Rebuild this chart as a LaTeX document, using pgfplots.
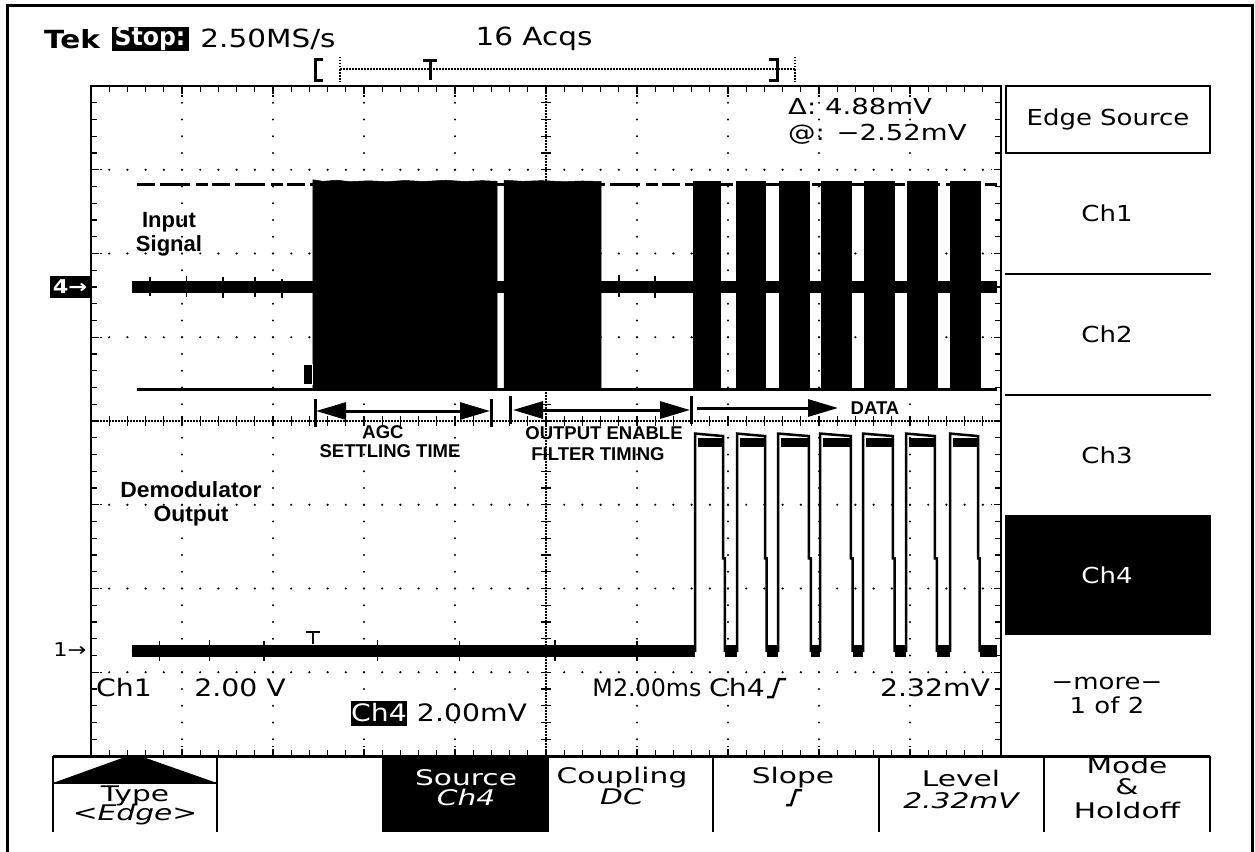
\documentclass[border=0pt]{standalone}
\usepackage{fontspec}
\setmainfont{Liberation Sans}
\newfontfamily\tek{DejaVu Sans}[FakeStretch=1.18]
\usepackage{pgfplots}
\pgfplotsset{compat=1.18}
\usetikzlibrary{arrows.meta}
\newcommand{\tf}[1]{\fontsize{#1}{#1}\selectfont\tek}
\newcommand{\af}[1]{\fontsize{#1}{#1}\selectfont\bfseries}
\newcommand{\mt}[1]{\scalebox{1.17}[1]{\tf{21.5}#1}}
\begin{document}
\begin{tikzpicture}[x=1pt,y=1pt]
\path[use as bounding box] (0,0) rectangle (1255,-851);
% outer frame
\draw[line width=3pt] (7,-852) -- (7,-6) -- (1252,-6) -- (1252,-852);
% ---------- graticule ----------
\foreach \i in {1,2,3,4,6,7,8,9}
  \foreach \j in {1,...,39}
    \fill ({91+91*\i},{-86-16.75*\j}) circle (1.2pt);
\foreach \k in {1,2,3,5,6,7}
  \foreach \m in {1,...,49}
    \fill ({91+18.2*\m},{-86-83.75*\k}) circle (1.2pt);
\draw[line width=1.2pt, dash pattern=on 1.5pt off 1.5pt] (546,-86) -- (546,-756);
\draw[line width=1.2pt, dash pattern=on 1.5pt off 1.5pt] (91,-421) -- (1001,-421);
\foreach \j in {1,...,39} \draw[line width=1.2pt] (541,{-86-16.75*\j}) -- (551,{-86-16.75*\j});
\foreach \m in {1,...,49} \draw[line width=1.2pt] ({91+18.2*\m},-416) -- ({91+18.2*\m},-426);
\foreach \m in {1,...,49} {
  \draw[line width=1.2pt] ({91+18.2*\m},-86) -- ({91+18.2*\m},-92);
  \draw[line width=1.2pt] ({91+18.2*\m},-756) -- ({91+18.2*\m},-750);}
\foreach \j in {1,...,39} {
  \draw[line width=1.2pt] (91,{-86-16.75*\j}) -- (97,{-86-16.75*\j});
  \draw[line width=1.2pt] (1001,{-86-16.75*\j}) -- (995,{-86-16.75*\j});}
\foreach \i in {1,...,9} {
  \draw[line width=1.2pt, dash pattern=on 1.5pt off 1.5pt] ({91+91*\i},-86) -- ({91+91*\i},-98);
  \draw[line width=1.2pt, dash pattern=on 1.5pt off 1.5pt] ({91+91*\i},-756) -- ({91+91*\i},-744);}
\foreach \k in {1,...,7} {
  \draw[line width=1.2pt, dash pattern=on 1.5pt off 1.5pt] (91,{-86-83.75*\k}) -- (103,{-86-83.75*\k});
  \draw[line width=1.2pt, dash pattern=on 1.5pt off 1.5pt] (1001,{-86-83.75*\k}) -- (989,{-86-83.75*\k});}
\draw[line width=2.2pt] (91,-756) -- (91,-86) -- (1001,-86) -- (1001,-756);
% ---------- top status line ----------
\node[anchor=center, inner sep=0pt] at (72,-39) {\tf{25}\bfseries Tek};
\fill (112,-27) rectangle (189,-51);
\node[anchor=center, inner sep=0pt, text=white] at (150,-39) {\scalebox{0.8}[1]{\tf{25}\bfseries Stop:}};
\node[anchor=center, inner sep=0pt] at (268,-39) {\tf{25}2.50MS/s};
\node[anchor=center, inner sep=0pt] at (534,-39) {\tf{25}16 Acqs};
% record bar
\draw[line width=3pt] (323,-60) -- (315,-60) -- (315,-80) -- (323,-80);
\draw[line width=1.2pt, dash pattern=on 1.5pt off 1.5pt] (340,-57) -- (340,-82);
\draw[line width=1.2pt, dash pattern=on 1.5pt off 1.5pt] (340,-69) -- (795,-69);
\draw[line width=3pt] (423,-61) -- (437,-61);
\draw[line width=3pt] (430,-61) -- (430,-80);
\draw[line width=3pt] (769,-60) -- (777,-60) -- (777,-80) -- (769,-80);
\draw[line width=1.2pt, dash pattern=on 1.5pt off 1.5pt] (795,-57) -- (795,-82);
% readouts
\node[anchor=west, inner sep=0pt] at (788,-106) {\scalebox{1.06}[1]{\tf{22}Δ: 4.88mV}};
\node[anchor=west, inner sep=0pt] at (788,-134) {\scalebox{1.06}[1]{\tf{22}@: −2.52mV}};
% channel markers
\fill (50,-276) rectangle (91,-298);
\node[anchor=center, inner sep=0pt, text=white] at (70,-287) {\tf{19}\bfseries 4→};
\node[anchor=center, inner sep=0pt] at (70,-650) {\tf{19}1→};
% ---------- waveforms ----------
\begin{axis}[at={(91pt,-756pt)}, anchor=south west, width=910pt, height=670pt,
  scale only axis, xmin=0, xmax=20, ymin=-4, ymax=4, hide axis, clip=false,
  unbounded coords=jump]
% Ch4 input signal (divisions), time in ms
\addplot[black, line width=3pt, dash pattern=on 18pt off 5pt on 30pt off 6pt on 12pt off 4pt] coordinates {(1.011,2.818) (19.912,2.818)};
\addplot[black, line width=2.5pt] coordinates {(1.011,0.379) (19.912,0.379)};
\addplot[black, line width=12pt] coordinates {(0.901,1.606) (19.912,1.606)};
\addplot[black, line width=1.5pt] coordinates {(1.3,1.72) (1.3,1.49) (nan,nan) (2.1,1.73) (2.1,1.48) (nan,nan) (2.9,1.47) (2.9,1.72) (nan,nan) (3.6,1.48) (3.6,1.72) (nan,nan) (4.2,1.47) (4.2,1.70) (nan,nan) (11.6,1.74) (11.6,1.48) (nan,nan) (12.4,1.47) (12.4,1.73)};
\addplot[fill=black, draw=black, line width=0.5pt] coordinates {(4.879,0.382) (4.879,2.880) (5.10,2.862) (5.40,2.875) (5.70,2.858) (6.10,2.868) (6.50,2.858) (6.90,2.872) (7.30,2.860) (7.80,2.875) (8.20,2.860) (8.60,2.870) (8.923,2.862) (8.923,0.382)} -- cycle;
\addplot[fill=black, draw=black, line width=0.5pt] coordinates {(9.077,0.382) (9.077,2.875) (9.50,2.862) (9.90,2.870) (10.40,2.858) (10.80,2.866) (11.209,2.860) (11.209,0.382)} -- cycle;
\addplot[fill=black, draw=black, line width=0.5pt] coordinates {(13.231,0.382) (13.231,2.862) (13.824,2.862) (13.824,0.382)} -- cycle;
\addplot[fill=black, draw=black, line width=0.5pt] coordinates {(14.176,0.382) (14.176,2.862) (14.813,2.862) (14.813,0.382)} -- cycle;
\addplot[fill=black, draw=black, line width=0.5pt] coordinates {(15.121,0.382) (15.121,2.862) (15.780,2.862) (15.780,0.382)} -- cycle;
\addplot[fill=black, draw=black, line width=0.5pt] coordinates {(16.044,0.382) (16.044,2.862) (16.703,2.862) (16.703,0.382)} -- cycle;
\addplot[fill=black, draw=black, line width=0.5pt] coordinates {(16.989,0.382) (16.989,2.862) (17.648,2.862) (17.648,0.382)} -- cycle;
\addplot[fill=black, draw=black, line width=0.5pt] coordinates {(17.934,0.382) (17.934,2.862) (18.593,2.862) (18.593,0.382)} -- cycle;
\addplot[fill=black, draw=black, line width=0.5pt] coordinates {(18.879,0.382) (18.879,2.862) (19.538,2.862) (19.538,0.382)} -- cycle;
% Ch1 demodulator output
\addplot[black, line width=2.5pt] coordinates {
 (0.901,-2.746) (13.275,-2.746) (13.275,-0.15) (13.890,-0.18) (13.890,-1.64) (13.93,-1.64) (13.93,-2.746)
 (14.198,-2.746) (14.198,-0.15) (14.813,-0.18) (14.813,-1.64) (14.85,-1.64) (14.85,-2.746)
 (15.099,-2.746) (15.099,-0.15) (15.780,-0.18) (15.780,-1.64) (15.82,-1.64) (15.82,-2.746)
 (16.022,-2.746) (16.022,-0.15) (16.703,-0.18) (16.703,-1.64) (16.74,-1.64) (16.74,-2.746)
 (16.967,-2.746) (16.967,-0.15) (17.626,-0.18) (17.626,-1.64) (17.66,-1.64) (17.66,-2.746)
 (17.912,-2.746) (17.912,-0.15) (18.549,-0.18) (18.549,-1.64) (18.59,-1.64) (18.59,-2.746)
 (18.879,-2.746) (18.879,-0.15) (19.495,-0.18) (19.495,-1.64) (19.53,-1.64) (19.53,-2.746)
 (19.912,-2.746)};
\addplot[black, line width=9pt] coordinates {
 (13.35,-0.26) (13.89,-0.26) (13.9,nan)
 (14.27,-0.26) (14.81,-0.26) (14.82,nan)
 (15.17,-0.26) (15.78,-0.26) (15.79,nan)
 (16.09,-0.26) (16.70,-0.26) (16.71,nan)
 (17.04,-0.26) (17.63,-0.26) (17.64,nan)
 (17.98,-0.26) (18.55,-0.26) (18.56,nan)
 (18.95,-0.26) (19.50,-0.26)};
\addplot[black, line width=12pt] coordinates {
 (0.901,-2.746) (13.275,-2.746) (13.28,nan)
 (13.93,-2.746) (14.198,-2.746) (14.2,nan)
 (14.85,-2.746) (15.099,-2.746) (15.1,nan)
 (15.82,-2.746) (16.022,-2.746) (16.03,nan)
 (16.74,-2.746) (16.967,-2.746) (16.97,nan)
 (17.66,-2.746) (17.912,-2.746) (17.92,nan)
 (18.59,-2.746) (18.879,-2.746) (18.88,nan)
 (19.53,-2.746) (19.912,-2.746)};
\addplot[black, line width=1.5pt] coordinates {(1.5,-2.63) (1.5,-2.86) (nan,nan) (2.6,-2.62) (2.6,-2.87) (nan,nan) (3.8,-2.63) (3.8,-2.86) (nan,nan) (6.3,-2.62) (6.3,-2.87) (nan,nan) (8.1,-2.63) (8.1,-2.86) (nan,nan) (10.2,-2.62) (10.2,-2.87) (nan,nan) (12.0,-2.63) (12.0,-2.86)};
% trigger markers
\draw[line width=2pt] (4.72,-2.52) -- (5.04,-2.52);
\draw[line width=2pt] (4.88,-2.52) -- (4.88,-2.66);
\filldraw[fill=black, draw=white, line width=1pt] (4.66,0.43) rectangle (4.879,0.68);
\end{axis}
% ---------- annotations ----------
\draw[line width=3pt] (315,-399) -- (315,-427);
\draw[line width=3pt] (491,-399) -- (491,-427);
\draw[line width=3pt, {Triangle[length=30pt,width=17pt]}-{Triangle[length=30pt,width=17pt]}] (316,-411) -- (490,-411);
\draw[line width=3pt] (510,-396) -- (510,-424);
\draw[line width=3pt] (691,-396) -- (691,-424);
\draw[line width=3pt, {Triangle[length=30pt,width=17pt]}-{Triangle[length=30pt,width=17pt]}] (513,-410) -- (690,-410);
\draw[line width=3pt, -{Triangle[length=30pt,width=17pt]}] (697,-408) -- (838,-408);
\node[inner sep=0pt] at (383,-432) {\af{18.5}AGC};
\node[inner sep=0pt] at (390,-451) {\af{18.5}SETTLING TIME};
\node[inner sep=0pt] at (604,-433) {\af{18.5}OUTPUT ENABLE};
\node[inner sep=0pt] at (598,-454) {\af{18.5}FILTER TIMING};
\node[inner sep=0pt] at (875,-408) {\af{18.5}DATA};
\node[inner sep=0pt] at (169,-222) {\af{22}Input};
\node[inner sep=0pt] at (169,-246) {\af{22}Signal};
\node[inner sep=0pt] at (191,-490) {\scalebox{1.04}[1]{\af{22}Demodulator}};
\node[inner sep=0pt] at (191,-516) {\scalebox{1.04}[1]{\af{22}Output}};
% ---------- bottom readouts in graticule ----------
\node[inner sep=0pt] at (124,-688) {\tf{24}Ch1};
\node[inner sep=0pt] at (240,-688) {\tf{24}2.00 V};
\fill (351,-701) rectangle (407,-726);
\node[inner sep=0pt, text=white] at (379,-713) {\tf{24}Ch4};
\node[inner sep=0pt] at (472,-713) {\tf{24}2.00mV};
\node[inner sep=0pt] at (647,-688) {\scalebox{0.84}[1]{\tf{24}M2.00ms}};
\node[inner sep=0pt] at (737,-688) {\tf{24}Ch4};
\draw[line width=2.5pt] (767,-697) -- (773,-697) -- (779,-679) -- (786,-679);
\node[inner sep=0pt] at (935,-688) {\tf{24}2.32mV};
% ---------- side menu ----------
\draw[line width=2pt] (1006,-86) rectangle (1210,-153);
\node[inner sep=0pt] at (1108,-119) {\tf{22}Edge Source};
\node[inner sep=0pt] at (1107,-213) {\tf{22}Ch1};
\draw[line width=2pt] (1005,-274) -- (1211,-274);
\node[inner sep=0pt] at (1107,-334) {\tf{22}Ch2};
\draw[line width=2pt] (1005,-395) -- (1211,-395);
\node[inner sep=0pt] at (1107,-455) {\tf{22}Ch3};
\fill (1005,-515) rectangle (1211,-635);
\node[inner sep=0pt, text=white] at (1107,-575) {\tf{22}Ch4};
\node[inner sep=0pt] at (1107,-683) {\tf{22}−more−};
\node[inner sep=0pt] at (1107,-705) {\tf{22}1 of 2};
% ---------- bottom menu ----------
\fill (383,-756) rectangle (548,-832);
\draw[line width=3pt] (53,-756) -- (1210,-756);
\foreach \xx in {53,217,383,548,713,879,1044,1210} \draw[line width=2.5pt] (\xx,-756) -- (\xx,-832);
\fill (53,-783) -- (125,-757) -- (143,-757) -- (217,-783) -- cycle;
\draw[line width=2pt] (53,-783) -- (217,-783);
\node[inner sep=0pt] at (135,-796) {\mt{Type}};
\node[inner sep=0pt] at (135,-815) {\mt{<\itshape Edge\upshape>}};
\node[inner sep=0pt, text=white] at (466,-778) {\mt{Source}};
\node[inner sep=0pt, text=white] at (466,-797) {\mt{\itshape Ch4}};
\node[inner sep=0pt] at (622,-778) {\mt{Coupling}};
\node[inner sep=0pt] at (622,-797) {\mt{\itshape DC}};
\node[inner sep=0pt] at (793,-778) {\mt{Slope}};
\draw[line width=2.5pt] (786,-805) -- (791,-805) -- (796,-790) -- (802,-790);
\node[inner sep=0pt] at (961,-778) {\mt{Level}};
\node[inner sep=0pt] at (961,-801) {\mt{\itshape 2.32mV}};
\node[inner sep=0pt] at (1127,-765) {\mt{Mode}};
\node[inner sep=0pt] at (1127,-787) {\mt{\&}};
\node[inner sep=0pt] at (1127,-810) {\mt{Holdoff}};
\end{tikzpicture}
\end{document}
